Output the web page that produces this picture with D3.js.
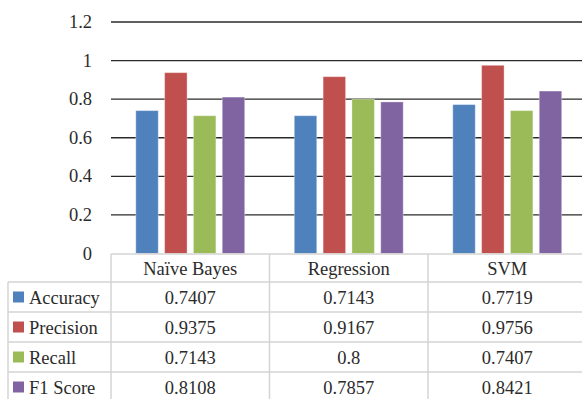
<!DOCTYPE html>
<html>
<head>
<meta charset="utf-8">
<script src="https://cdn.jsdelivr.net/npm/d3@7"></script>
</head>
<body style="margin:0">
<svg width="582" height="399" style="display:block;background:#fff"></svg>
<script>
const categories = ["Naïve Bayes", "Regression", "SVM"];
const seriesNames = ["Accuracy", "Precision", "Recall", "F1 Score"];
const accuracy  = [0.7407, 0.7143, 0.7719];
const precision = [0.9375, 0.9167, 0.9756];
const recall    = [0.7143, 0.8, 0.7407];
const f1Score   = [0.8108, 0.7857, 0.8421];
const tableLabels = {
  Accuracy:  ["0.7407", "0.7143", "0.7719"],
  Precision: ["0.9375", "0.9167", "0.9756"],
  Recall:    ["0.7143", "0.8", "0.7407"],
  "F1 Score": ["0.8108", "0.7857", "0.8421"]
};
const yTicks = [0, 0.2, 0.4, 0.6, 0.8, 1, 1.2];
const colors = ["#4F81BD", "#C0504D", "#9BBB59", "#8064A2"];

const seriesValues = [accuracy, precision, recall, f1Score];
const textColor = "#2b2b2b";

const svg = d3.select("svg");

const x0 = d3.scaleBand().domain(categories).range([111, 586.5]).padding(0);
const x1 = d3.scaleBand().domain(seriesNames).range([0, x0.bandwidth()])
  .paddingInner(0.22).paddingOuter(0.86);
const y = d3.scaleLinear().domain([0, 1.2]).range([253.5, 22]);
const color = d3.scaleOrdinal().domain(seriesNames).range(colors);

function txt(sel) {
  return sel.attr("font-family", "Liberation Serif")
    .style("font-family", "Liberation Serif")
    .attr("font-size", 18.5)
    .attr("fill", textColor)
    .attr("dy", "0.33em");
}

// gridlines
svg.append("g").selectAll("line").data(yTicks.filter(d => d > 0)).join("line")
  .attr("x1", 111).attr("x2", 586)
  .attr("y1", d => y(d)).attr("y2", d => y(d))
  .attr("stroke", "#2a2a2a").attr("stroke-width", 1.4);

// y tick labels
svg.append("g").selectAll("text").data(yTicks).join("text")
  .attr("x", 92).attr("y", d => y(d))
  .attr("text-anchor", "end")
  .call(txt)
  .text(d => d3.format("")(d));

// bars
const flat = [];
categories.forEach((c, i) => seriesNames.forEach((s, j) => flat.push({c, s, v: seriesValues[j][i]})));
svg.append("g").selectAll("rect").data(flat).join("rect")
  .attr("x", d => x0(d.c) + x1(d.s))
  .attr("width", x1.bandwidth())
  .attr("y", d => y(d.v))
  .attr("height", d => y(0) - y(d.v))
  .attr("fill", d => color(d.s))
  .attr("stroke", "#ffffff").attr("stroke-opacity", 0.35).attr("stroke-width", 1);

// data table
const headerTop = 254, headerBottom = 282;
const rowY = d3.scaleBand().domain(seriesNames).range([282, 402]);
const legendLeft = 8, tableLeft = 111, tableRight = 586;
const lineColor = "#d4d4d4";
const t = svg.append("g");

t.append("line").attr("x1", tableLeft).attr("x2", tableRight)
  .attr("y1", headerTop).attr("y2", headerTop).attr("stroke", lineColor).attr("stroke-width", 1.5);
t.selectAll("line.h").data(seriesNames).join("line").attr("class", "h")
  .attr("x1", legendLeft).attr("x2", tableRight)
  .attr("y1", d => rowY(d)).attr("y2", d => rowY(d))
  .attr("stroke", lineColor).attr("stroke-width", 1.5);
t.append("line").attr("x1", legendLeft).attr("x2", legendLeft)
  .attr("y1", headerBottom).attr("y2", 402).attr("stroke", lineColor).attr("stroke-width", 1.5);
t.selectAll("line.v").data(categories).join("line").attr("class", "v")
  .attr("x1", d => x0(d)).attr("x2", d => x0(d))
  .attr("y1", headerTop).attr("y2", 402)
  .attr("stroke", lineColor).attr("stroke-width", 1.5);

t.selectAll("text.hd").data(categories).join("text").attr("class", "hd")
  .attr("x", d => x0(d) + x0.bandwidth() / 2)
  .attr("y", (headerTop + headerBottom) / 2 + 1)
  .attr("text-anchor", "middle")
  .call(txt)
  .text(d => d);

seriesNames.forEach(s => {
  const cy = rowY(s) + rowY.bandwidth() / 2;
  t.append("rect").attr("x", 13).attr("y", cy - 5.5).attr("width", 11).attr("height", 11)
    .attr("fill", color(s));
  t.append("text").attr("x", 29).attr("y", cy + 1)
    .call(txt).text(s);
  categories.forEach((c, i) => {
    t.append("text").attr("x", x0(c) + x0.bandwidth() / 2).attr("y", cy + 1)
      .attr("text-anchor", "middle")
      .call(txt).text(tableLabels[s][i]);
  });
});
</script>
</body>
</html>
